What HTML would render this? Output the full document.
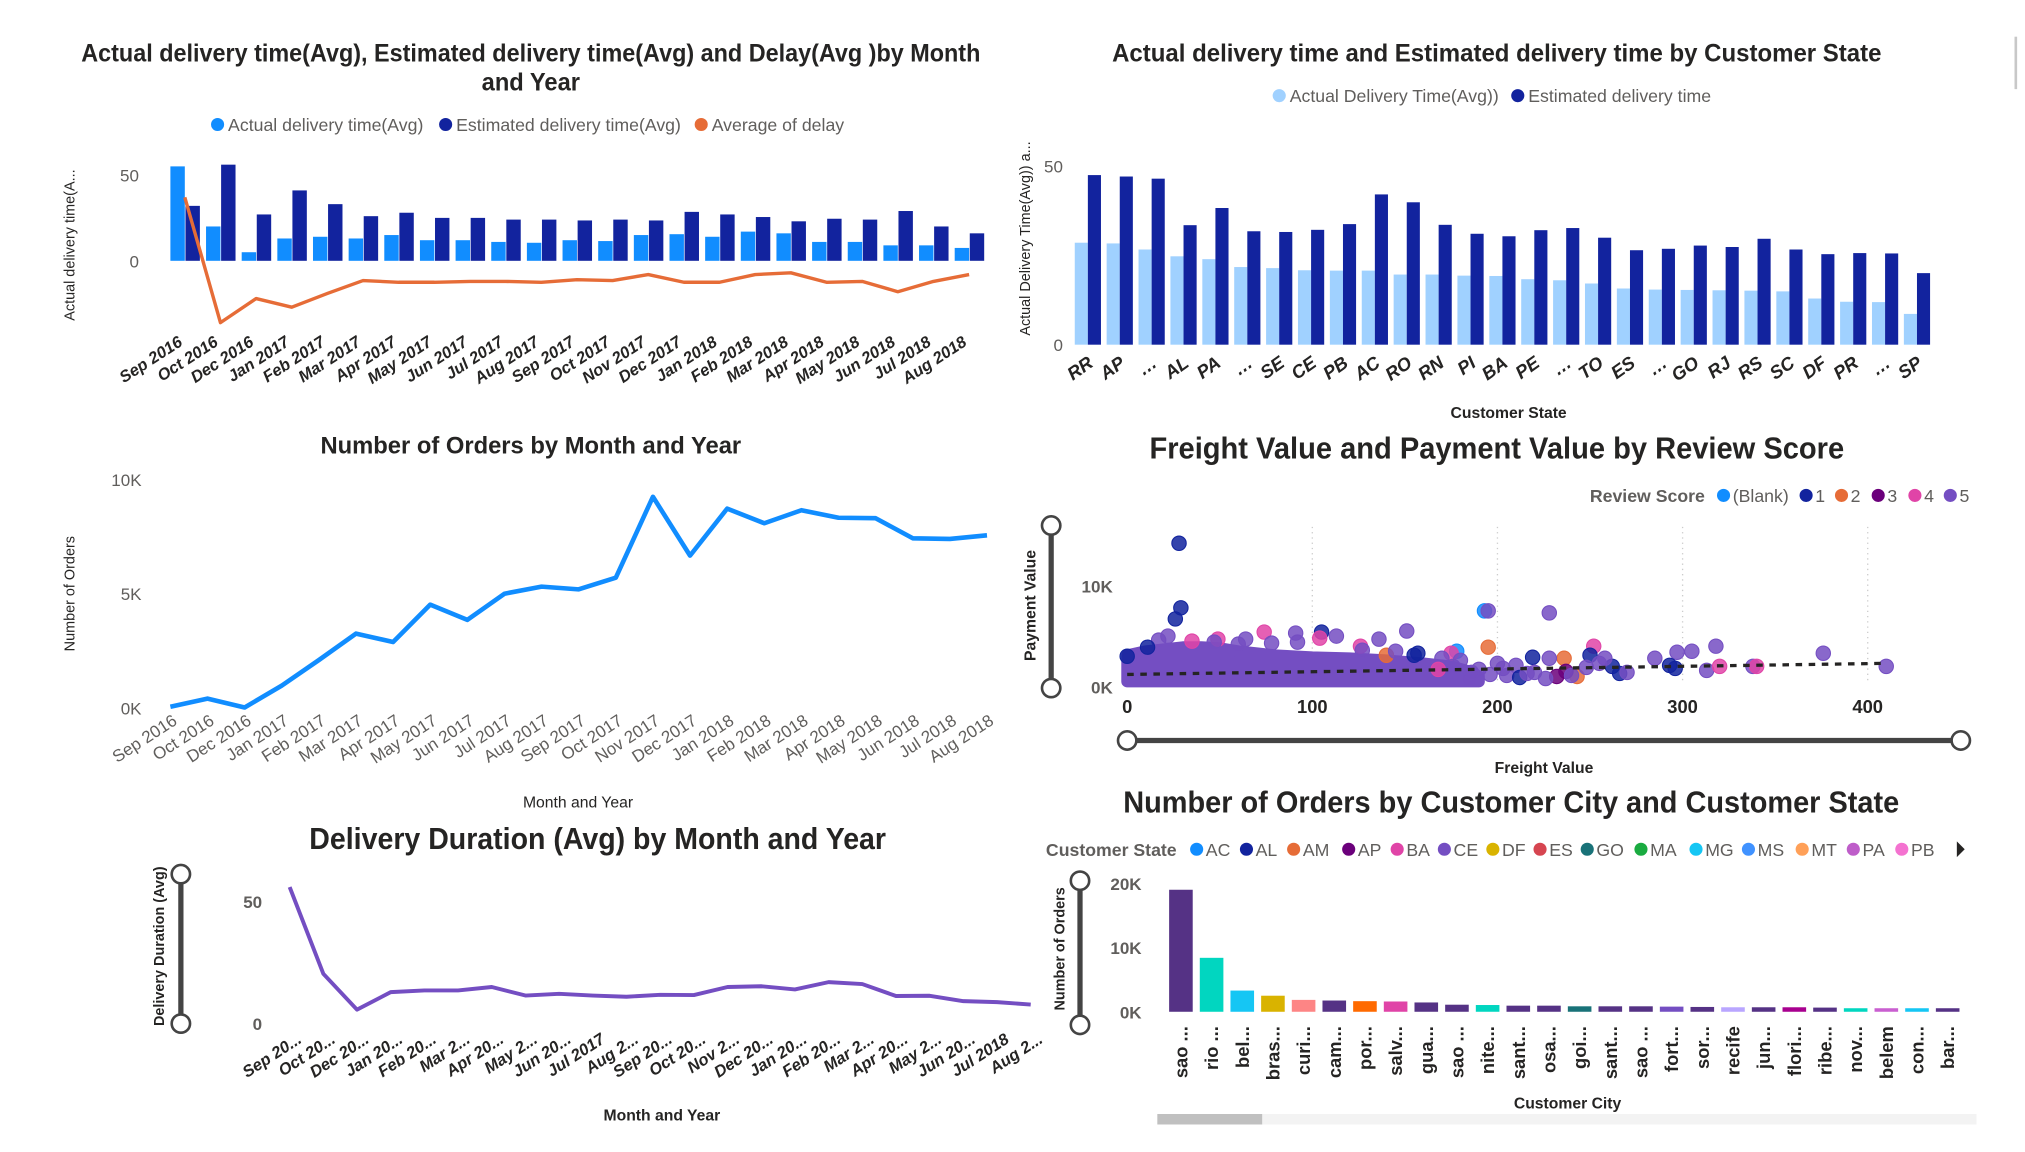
<!DOCTYPE html>
<html><head><meta charset="utf-8"><title>Delivery Dashboard</title>
<style>
html,body{margin:0;padding:0;background:#fff;width:2025px;height:1152px;overflow:hidden}
svg{display:block;font-family:"Liberation Sans",sans-serif}
.t{font-weight:bold;fill:#252423}
.g{fill:#605e5c}
</style></head>
<body>
<svg id="dash" width="2025" height="1152" viewBox="0 0 1545 879" preserveAspectRatio="none" xmlns="http://www.w3.org/2000/svg">
<rect x="1537" y="28" width="2" height="40" fill="#c8c8c8"/>
<text class="t" x="405" y="47" font-size="19" text-anchor="middle" textLength="686" lengthAdjust="spacingAndGlyphs">Actual delivery time(Avg), Estimated delivery time(Avg) and Delay(Avg )by Month</text>
<text class="t" x="405" y="69" font-size="19" text-anchor="middle" textLength="75" lengthAdjust="spacingAndGlyphs">and Year</text>
<text class="t" x="1142" y="47" font-size="19" text-anchor="middle" textLength="587" lengthAdjust="spacingAndGlyphs">Actual delivery time and Estimated delivery time by Customer State</text>
<text class="t" x="405" y="346" font-size="18" text-anchor="middle" textLength="321" lengthAdjust="spacingAndGlyphs">Number of Orders by Month and Year</text>
<text class="t" x="1142" y="350" font-size="23" text-anchor="middle" textLength="530" lengthAdjust="spacingAndGlyphs">Freight Value and Payment Value by Review Score</text>
<text class="t" x="456" y="648" font-size="23" text-anchor="middle" textLength="440" lengthAdjust="spacingAndGlyphs">Delivery Duration (Avg) by Month and Year</text>
<text class="t" x="1153" y="620" font-size="23" text-anchor="middle" textLength="592" lengthAdjust="spacingAndGlyphs">Number of Orders by Customer City and Customer State</text>
<g id="layer"></g>
</svg>
<script>
const months = ['Sep 2016','Oct 2016','Dec 2016','Jan 2017','Feb 2017','Mar 2017','Apr 2017','May 2017','Jun 2017','Jul 2017','Aug 2017','Sep 2017','Oct 2017','Nov 2017','Dec 2017','Jan 2018','Feb 2018','Mar 2018','Apr 2018','May 2018','Jun 2018','Jul 2018','Aug 2018'];
const actualTime = [55,20,5,13,14,13,15,12,12,11,10.5,12,11.5,15,15.5,14,17,16,11,11,9,9,7.5];
const estTime = [32,56,27,41,33,26,28,25,25,24,24,23.5,24,23.5,28.5,27,25.5,23,24.5,24,29,20,16];
const delay = [37,-36,-22,-27,-19,-11.5,-12.5,-12.5,-12,-12,-12.5,-11,-11.5,-8,-12.5,-12.5,-8,-7,-12.5,-12,-18,-12,-8];
const delayTicks = ['0','50'];

const states = ['RR','AP','…','AL','PA','…','SE','CE','PB','AC','RO','RN','PI','BA','PE','…','TO','ES','…','GO','RJ','RS','SC','DF','PR','…','SP'];
const stateActual = [28.5,28.3,26.6,24.7,23.9,21.7,21.4,20.8,20.7,20.7,19.6,19.6,19.3,19.2,18.3,18.0,17.1,15.7,15.4,15.3,15.2,15.1,14.9,12.9,12.0,11.9,8.6];
const stateEst = [47.4,47.0,46.4,33.4,38.2,31.7,31.5,32.1,33.7,42.0,39.8,33.5,31.0,30.3,32.0,32.6,29.9,26.4,26.8,27.7,27.3,29.6,26.6,25.3,25.6,25.5,20.0];

const orders = [40,400,10,970,2090,3250,2880,4520,3850,5000,5310,5190,5700,9250,6670,8730,8090,8660,8330,8310,7430,7400,7560];
const orderTicks = ['0K','5K','10K'];

const durMonths = ['Sep 20...','Oct 20...','Dec 20...','Jan 20...','Feb 20...','Mar 2...','Apr 20...','May 2...','Jun 20...','Jul 2017','Aug 2...','Sep 20...','Oct 20...','Nov 2...','Dec 20...','Jan 20...','Feb 20...','Mar 2...','Apr 20...','May 2...','Jun 20...','Jul 2018','Aug 2...'];
const duration = [56,20.4,5.7,12.9,13.6,13.6,15,11.5,12.2,11.5,11,11.8,11.7,15,15.3,14,17,16.2,11.3,11.4,9.2,8.8,7.8];

const scatFreight = [28,29,26,193,195,228,151,105,74,91,113,22,136,104,64,49,35,17,195,252,318,305,297,376,285,293,296,313,320,338,340,410,0,11,157,155,219,250,262,266,178,175,140,236,243,232,237,255,258,228,170,180,200,210,126,127,92,60,47,78,145,248,270,220,190,205,185,196,212,226,240,186,176,168,203,216];
const scatPayment = [13700,7300,6200,7000,7000,6800,5000,4900,4900,4800,4500,4500,4200,4300,4200,4200,4000,4100,3400,3500,3500,3000,2900,2800,2300,1600,1300,1100,1500,1500,1500,1500,2500,3400,2800,2600,2400,2600,1500,800,3000,2800,2600,2300,500,500,1000,1800,2300,2300,2300,2100,1800,1600,3500,3100,3900,3700,3900,3800,3000,1400,900,900,1200,600,300,700,400,300,600,900,1500,1200,1300,800];
const scatScore = [1,1,1,0,5,5,5,1,4,5,5,5,5,4,5,4,4,5,2,4,5,5,5,5,5,1,1,5,4,5,4,5,1,1,1,1,1,1,1,1,0,4,2,2,2,3,3,5,5,5,5,5,5,5,4,5,5,5,5,5,5,5,5,5,5,5,5,5,1,5,5,5,5,4,5,5];
const densFreight = [0,10,20,30,40,50,60,70,80,100,120,140,160,175,185,190,190,0];
const densPayment = [2600,3000,3200,3400,3400,3300,3000,2800,2600,2400,2300,2100,1800,1500,1000,500,0,0];
const trendFreight = [0,410];
const trendPayment = [700,1800];
const freightTicks = ['0','100','200','300','400'];
const paymentTicks = ['0K','10K'];

const cities = ['sao ...','rio ...','bel...','bras...','curi...','cam...','por...','salv...','gua...','sao ...','nite...','sant...','osa...','goi...','sant...','sao ...','fort...','sor...','recife','jun...','flori...','ribe...','nov...','belem','con...','bar...'];
const cityOrders = [19000,8400,3300,2500,1850,1750,1650,1600,1450,1100,1050,950,950,850,850,850,800,750,700,700,700,650,550,550,550,550];
const cityColors = ['#553285','#01D6C0','#15C6F4','#D9B300','#FD8585','#553285','#FF6A00','#E044A7','#553285','#553285','#01D6C0','#553285','#553285','#197278','#553285','#553285','#744EC2','#553285','#B9A6FF','#553285','#A8008F','#553285','#01D6C0','#C95FD0','#15C6F4','#553285'];
const cityTicks = ['0K','10K','20K'];

const NS='http://www.w3.org/2000/svg';
const layer=document.getElementById('layer');
function mk(tag,attrs,parent){const e=document.createElementNS(NS,tag);for(const k in attrs)e.setAttribute(k,attrs[k]);(parent||layer).appendChild(e);return e;}
function txt(s,attrs,parent){const e=mk('text',attrs,parent);e.textContent=s;return e;}
function pts(xs,ys){return xs.map((x,i)=>x+','+ys[i]).join(' ');}

// chart 1
const x1=i=>128+27.2*i, y1=v=>199-v*1.31;
actualTime.forEach((v,i)=>{
  const r=mk('rect',{x:x1(i)+2,y:y1(v),width:11,height:y1(0)-y1(v),fill:'#118DFF'});
  
  
});
estTime.forEach((v,i)=>{
  const r=mk('rect',{x:x1(i)+13.5,y:y1(v),width:11,height:y1(0)-y1(v),fill:'#12239E'});
  
  
});
const dl=mk('polyline',{points:pts(delay.map((v,i)=>x1(i)+13),delay.map(y1)),fill:'none',stroke:'#E66C37','stroke-width':2.6,'stroke-linejoin':'round'});


[0,50].forEach((v,i)=>{const t=txt(delayTicks[i],{x:106,y:y1(v)+5,'font-size':13,'text-anchor':'end',class:'g'});
 
 });
months.forEach((m,i)=>{const t=txt(m,{x:x1(i)+12,y:263,'font-size':12.5,'font-weight':'bold','font-style':'italic','text-anchor':'end',fill:'#252423',transform:`rotate(-33 ${x1(i)+12} 263)`});
 
 });
let t1=txt('Actual delivery time(A...',{x:0,y:0,'font-size':11,fill:'#252423',transform:'translate(57,187) rotate(-90)','text-anchor':'middle'});


[['Actual delivery time(Avg)','#118DFF',166],['Estimated delivery time(Avg)','#12239E',340],['Average of delay','#E66C37',535]].forEach(l=>{
 const c=mk('circle',{cx:l[2],cy:95,r:5,fill:l[1]});
 
 
 const t=txt(l[0],{x:l[2]+8,y:100,'font-size':13.5,fill:'#605e5c'});
 
 
});

// chart 2
const x2=i=>820+24.33*i, y2=v=>263-v*2.73;
stateActual.forEach((v,i)=>{const r=mk('rect',{x:x2(i),y:y2(v),width:10,height:y2(0)-y2(v),fill:'#A0D1FF'});
 
 });
stateEst.forEach((v,i)=>{const r=mk('rect',{x:x2(i)+10,y:y2(v),width:10,height:y2(0)-y2(v),fill:'#12239E'});
 
 });
[0,50].forEach((v,i)=>{const t=txt(delayTicks[i],{x:811,y:y2(v)+5,'font-size':13,'text-anchor':'end',class:'g'});
 
 });
states.forEach((s,i)=>{const t=txt(s,{x:x2(i)+15,y:279,'font-size':14,'font-weight':'bold','font-style':'italic','text-anchor':'end',fill:'#252423',transform:`rotate(-35 ${x2(i)+15} 279)`});
 
 });
let t2=txt('Actual Delivery Time(Avg)) a...',{x:0,y:0,'font-size':11,fill:'#252423','text-anchor':'middle',transform:'translate(786,182) rotate(-90)'});


let t3=txt('Customer State',{x:1151,y:319,'font-size':12,'font-weight':'bold','text-anchor':'middle',fill:'#252423'});


[['Actual Delivery Time(Avg))','#A0D1FF',976],['Estimated delivery time','#12239E',1158]].forEach(l=>{
 const c=mk('circle',{cx:l[2],cy:73,r:5,fill:l[1]});
 
 
 const t=txt(l[0],{x:l[2]+8,y:78,'font-size':13.5,fill:'#605e5c'});
 
 
});

// chart 3
const x3=i=>130+28.32*i, y3=v=>540-v*0.0174;
const ol=mk('polyline',{points:pts(orders.map((v,i)=>x3(i)),orders.map(y3)),fill:'none',stroke:'#118DFF','stroke-width':3.5,'stroke-linejoin':'round'});


[0,5000,10000].forEach((v,i)=>{const t=txt(orderTicks[i],{x:108,y:y3(v)+5,'font-size':13,'text-anchor':'end',class:'g'});
 
 });
months.forEach((m,i)=>{const t=txt(m,{x:x3(i)+6,y:552,'font-size':13,'text-anchor':'end',fill:'#605e5c',transform:`rotate(-33 ${x3(i)+6} 552)`});
 
 });
let t4=txt('Number of Orders',{x:0,y:0,'font-size':11,fill:'#252423','text-anchor':'middle',transform:'translate(57,453) rotate(-90)'});


let t5=txt('Month and Year',{x:441,y:616,'font-size':12,'text-anchor':'middle',fill:'#252423'});



// chart 4 scatter
const sx=f=>860+f*1.4125, sy=p=>520-p*0.0077;
const scoreColors=['#118DFF','#12239E','#E66C37','#6B007B','#E044A7','#744EC2'];
[100,200,300,400].forEach(v=>{const g=mk('line',{x1:sx(v),x2:sx(v),y1:402,y2:520,stroke:'#ccc','stroke-dasharray':'1 3'});
 
 });
const dens=mk('polygon',{points:pts(densFreight.map(sx),densPayment.map(sy)),fill:'#744EC2',stroke:'#744EC2','stroke-width':9,'stroke-linejoin':'round'});


scatFreight.forEach((f,i)=>{const c=mk('circle',{cx:sx(f),cy:sy(scatPayment[i]),r:5.5,fill:scoreColors[scatScore[i]],'fill-opacity':0.85,stroke:scoreColors[scatScore[i]],'stroke-width':0.8});
 
 });
const tr=mk('line',{x1:sx(trendFreight[0]),y1:sy(trendPayment[0]),x2:sx(trendFreight[1]),y2:sy(trendPayment[1]),stroke:'#252423','stroke-width':2.5,'stroke-dasharray':'5 5'});


[0,100,200,300,400].forEach((v,i)=>{const t=txt(freightTicks[i],{x:sx(v),y:544,'font-size':14,'font-weight':'bold','text-anchor':'middle',fill:'#252423'});
 
 });
[0,10000].forEach((v,i)=>{const t=txt(paymentTicks[i],{x:849,y:sy(v)+9,'font-size':13,'font-weight':'bold','text-anchor':'end',fill:'#605e5c'});
 
 });
let t6=txt('Payment Value',{x:0,y:0,'font-size':12,'font-weight':'bold',fill:'#252423','text-anchor':'middle',transform:'translate(790,462) rotate(-90)'});


let t7=txt('Freight Value',{x:1178,y:590,'font-size':12,'font-weight':'bold','text-anchor':'middle',fill:'#252423'});


let t8=txt('Review Score',{x:1213,y:383,'font-size':13.5,'font-weight':'bold',fill:'#605e5c'});


[['(Blank)',1315],['1',1378],['2',1405],['3',1433],['4',1461],['5',1488]].forEach((l,i)=>{
 const c=mk('circle',{cx:l[1],cy:378,r:5,fill:scoreColors[i]});
 
 
 const t=txt(l[0],{x:l[1]+7,y:383,'font-size':13.5,fill:'#605e5c'});
 
 
});

function slider(name,xa,ya,xb,yb){
 const g=mk('g',{});
 
 
 mk('line',{x1:xa,y1:ya,x2:xb,y2:yb,stroke:'#444','stroke-width':4},g);
 mk('circle',{cx:xa,cy:ya,r:7,fill:'#fff',stroke:'#444','stroke-width':2},g);
 mk('circle',{cx:xb,cy:yb,r:7,fill:'#fff',stroke:'#444','stroke-width':2},g);
}
slider('payment-range-slider',802,401,802,525);
slider('freight-range-slider',860,565,1496,565);
slider('duration-range-slider',138,667,138,781);
slider('city-orders-range-slider',824,672,824,782);

// chart 5
const x5=i=>221+25.7*i, y5=v=>781-v*1.86;
const dur=mk('polyline',{points:pts(duration.map((v,i)=>x5(i)),duration.map(y5)),fill:'none',stroke:'#744EC2','stroke-width':3,'stroke-linejoin':'round'});


[0,50].forEach((v,i)=>{const t=txt(delayTicks[i],{x:200,y:y5(v)+5,'font-size':13,'font-weight':'bold','text-anchor':'end',fill:'#605e5c'});
 
 });
durMonths.forEach((m,i)=>{const t=txt(m,{x:x5(i)+10,y:795,'font-size':12.5,'font-weight':'bold','font-style':'italic','text-anchor':'end',fill:'#252423',transform:`rotate(-33 ${x5(i)+10} 795)`});
 
 });
let t9=txt('Delivery Duration (Avg)',{x:0,y:0,'font-size':11,'font-weight':'bold',fill:'#252423','text-anchor':'middle',transform:'translate(125,722) rotate(-90)'});


let t10=txt('Month and Year',{x:505,y:855,'font-size':12,'font-weight':'bold','text-anchor':'middle',fill:'#252423'});



// chart 6
const x6=i=>892+23.4*i, y6=v=>772-v*0.0049;
cityOrders.forEach((v,i)=>{const r=mk('rect',{x:x6(i),y:y6(v),width:18,height:y6(0)-y6(v),fill:cityColors[i]});
 
 });
[0,10000,20000].forEach((v,i)=>{const t=txt(cityTicks[i],{x:871,y:y6(v)+5,'font-size':13,'font-weight':'bold','text-anchor':'end',fill:'#605e5c'});
 
 });
cities.forEach((c,i)=>{const xx=x6(i)+14;const t=txt(c,{x:xx,y:783,'font-size':14,'font-weight':'bold','text-anchor':'end',fill:'#252423',transform:`rotate(-90 ${xx} 783)`});
 
 });
let t11=txt('Number of Orders',{x:0,y:0,'font-size':11,'font-weight':'bold',fill:'#252423','text-anchor':'middle',transform:'translate(812,724) rotate(-90)'});


let t12=txt('Customer City',{x:1196,y:846,'font-size':12,'font-weight':'bold','text-anchor':'middle',fill:'#252423'});


let t13=txt('Customer State',{x:798,y:653,'font-size':13.5,'font-weight':'bold',fill:'#605e5c'});


[['AC','#118DFF',913],['AL','#12239E',951],['AM','#E66C37',987],['AP','#6B007B',1029],['BA','#E044A7',1066],['CE','#744EC2',1102],['DF','#D9B300',1139],['ES','#D64550',1175],['GO','#197278',1211],['MA','#1AAB40',1252],['MG','#15C6F4',1294],['MS','#4092FF',1334],['MT','#FFA058',1375],['PA','#BE5DC9',1414],['PB','#F472D0',1451]].forEach(l=>{
 const c=mk('circle',{cx:l[2],cy:648,r:5,fill:l[1]});
 
 
 const t=txt(l[0],{x:l[2]+7,y:653,'font-size':13.5,fill:'#605e5c'});
 
 
});
const arr=mk('polygon',{points:'1493,642 1499,648 1493,654',fill:'#252423'});


const track=mk('rect',{x:883,y:850,width:625,height:8,fill:'#f3f3f3'});


const thumb=mk('rect',{x:883,y:850,width:80,height:8,fill:'#c0c0c0'});


</script>
</body></html>
